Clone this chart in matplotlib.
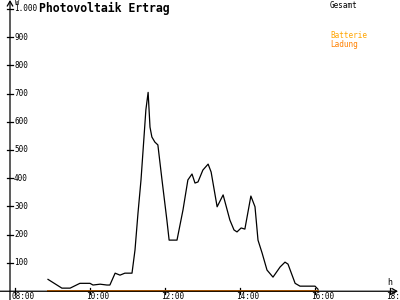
import matplotlib
matplotlib.use('Agg')
import matplotlib.pyplot as plt

# zeit in stunden, leistung in W
zeit = [8.88, 9.25, 9.47, 9.73, 10.0, 10.08, 10.27, 10.45, 10.53, 10.67, 10.8, 10.93,
        11.12, 11.2, 11.28, 11.36, 11.44, 11.49, 11.55, 11.6, 11.65, 11.73, 11.81,
        11.92, 12.05, 12.11, 12.32, 12.48, 12.61, 12.72, 12.8, 12.88, 13.01, 13.15,
        13.23, 13.39, 13.55, 13.73, 13.84, 13.92, 14.03, 14.13, 14.29, 14.4, 14.48,
        14.59, 14.72, 14.88, 15.07, 15.2, 15.28, 15.47, 15.6, 16.0, 16.08]
gesamt = [42, 11, 11, 28, 28, 22, 25, 22, 22, 64, 57, 64,
          64, 146, 277, 394, 546, 642, 704, 581, 546, 528, 518,
          394, 252, 181, 181, 288, 394, 415, 383, 387, 429, 450,
          422, 299, 341, 252, 217, 210, 224, 220, 337, 299, 181,
          135, 75, 50, 86, 103, 96, 28, 18, 18, 7]
ladung_zeit = [8.88, 16.08]
ladung = [0, 0]

y_ticks = [100, 200, 300, 400, 500, 600, 700, 800, 900, 1000]
y_labels = ['100', '200', '300', '400', '500', '600', '700', '800', '900', '1.000']
x_ticks = [8, 10, 12, 14, 16, 18]
x_labels = ['08:00', '10:00', '12:00', '14:00', '16:00', '18:']

mono = 'DejaVu Sans Mono'

fig = plt.figure(figsize=(4, 3), dpi=100)
ax = fig.add_axes([0, 0, 1, 1])
ax.set_xlim(7.6, 7.6 + 400 / 37.5)
ax.set_ylim(-31, 1031)
ax.axis('off')

# achsen
x0 = 7.6 + 10 / 37.5
ax.annotate('', xy=(x0, 1031), xytext=(x0, -31),
            arrowprops=dict(arrowstyle='->,head_length=0.35,head_width=0.2', lw=0.9, color='black', shrinkA=0, shrinkB=0))
ax.annotate('', xy=(7.6 + 398 / 37.5, 0), xytext=(7.6, 0),
            arrowprops=dict(arrowstyle='->,head_length=0.35,head_width=0.2', lw=0.9, color='black', shrinkA=0, shrinkB=0))

dx = 3 / 37.5
for v, lab in zip(y_ticks, y_labels):
    ax.plot([x0 - dx, x0 + dx], [v, v], color='black', lw=0.9)
    ax.text(x0 + 4 / 37.5, v, lab, fontsize=5.5, family=mono, va='center', ha='left')
for t, lab in zip(x_ticks, x_labels):
    ax.plot([t, t], [-11, 11], color='black', lw=0.9)
    ax.text(t - 4 / 37.5, -17, lab, fontsize=5.5, family=mono, va='center', ha='left')

ax.plot(zeit, gesamt, color='black', lw=0.9)
ax.plot(ladung_zeit, ladung, color='#ff8000', lw=1.4)

ax.text(7.6 + 15 / 37.5, 1022, 'W', fontsize=5, family=mono, va='center', ha='left')
ax.text(7.6 + 387 / 37.5, 32, 'h', fontsize=6, family=mono, va='center', ha='left')
fig.text(39 / 400, 1 - 8 / 300, 'Photovoltaik Ertrag', fontsize=8.3, family=mono,
         weight='bold', va='center', ha='left')
fig.text(330 / 400, 1 - 5 / 300, 'Gesamt', fontsize=5.5, family=mono, va='center', ha='left')
fig.text(330 / 400, 1 - 36 / 300, 'Batterie', fontsize=5.5, family=mono, color='#ffa500',
         va='center', ha='left')
fig.text(330 / 400, 1 - 44.5 / 300, 'Ladung', fontsize=5.5, family=mono, color='#ff8000',
         va='center', ha='left')

plt.savefig('out.png', dpi=100)
